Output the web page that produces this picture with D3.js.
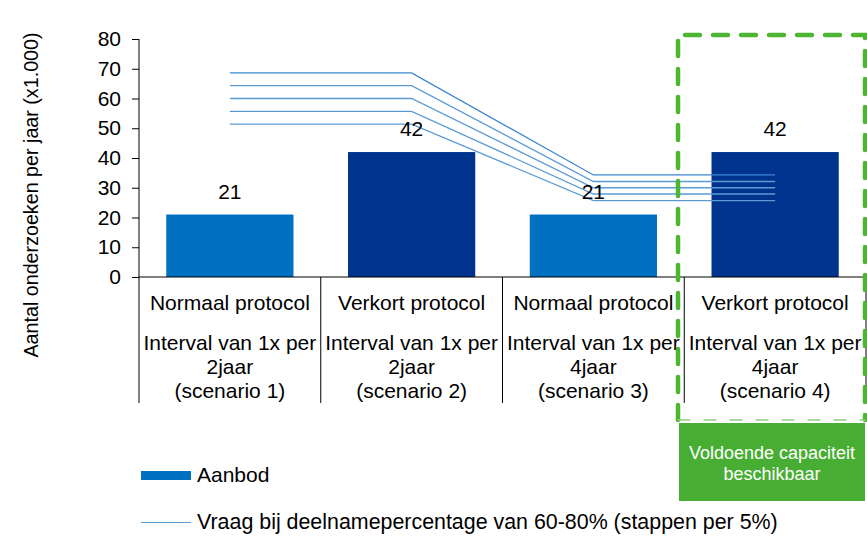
<!DOCTYPE html>
<html>
<head>
<meta charset="utf-8">
<script src="https://cdn.jsdelivr.net/npm/d3@7"></script>
<style>
  html, body { margin: 0; padding: 0; background: #fff; }
  svg { display: block; font-family: "Liberation Sans", Arial, sans-serif; }
</style>
</head>
<body>
<svg id="chart" width="867" height="536"></svg>
<script>
// Scenario categories (two label lines each)
const protocols = ["Normaal protocol", "Verkort protocol", "Normaal protocol", "Verkort protocol"];
const intervals = [
  ["Interval van 1x per", "2jaar", "(scenario 1)"],
  ["Interval van 1x per", "2jaar", "(scenario 2)"],
  ["Interval van 1x per", "4jaar", "(scenario 3)"],
  ["Interval van 1x per", "4jaar", "(scenario 4)"]
];
const scenarios = ["s1", "s2", "s3", "s4"];

// Supply (aanbod), x1.000 examinations per year
const aanbod = [21, 42, 21, 42];

// Demand at participation rates 60%..80% in steps of 5%
const vraag60 = [51.4, 51.4, 25.7, 25.7];
const vraag65 = [55.7, 55.7, 27.9, 27.9];
const vraag70 = [60.0, 60.0, 30.0, 30.0];
const vraag75 = [64.3, 64.3, 32.1, 32.1];
const vraag80 = [68.6, 68.6, 34.3, 34.3];
const vraagSeries = [vraag60, vraag65, vraag70, vraag75, vraag80];

const yTicks = [0, 10, 20, 30, 40, 50, 60, 70, 80];

const svg = d3.select("#chart");
const plotLeft = 139, plotRight = 866, plotTop = 39, plotBase = 277;
const fs = 21;

const x = d3.scaleBand().domain(scenarios).range([plotLeft, plotRight]).padding(0);
const y = d3.scaleLinear().domain([0, 80]).range([plotBase, plotTop]);
const barW = x.bandwidth() * 0.70;
const cx = i => x(scenarios[i]) + x.bandwidth() / 2;

// Y axis
const yAxis = d3.axisLeft(y).tickValues(yTicks).tickSize(7).tickPadding(11);
const gy = svg.append("g").attr("transform", `translate(${plotLeft},0)`).call(yAxis);
gy.select(".domain").attr("stroke", "#000").attr("d", `M0,${plotTop}V${plotBase}`);
gy.selectAll(".tick line").attr("stroke", "#000");
gy.selectAll(".tick text").attr("font-size", fs).attr("fill", "#000")
  .attr("font-family", "Liberation Sans, Arial, sans-serif");

// Y axis title
svg.append("text")
  .attr("transform", `translate(38,195) rotate(-90)`)
  .attr("text-anchor", "middle")
  .attr("font-size", 19.7)
  .attr("fill", "#000")
  .text("Aantal onderzoeken per jaar (x1.000)");

// Bars
svg.append("g").selectAll("rect").data(aanbod).join("rect")
  .attr("x", (d, i) => cx(i) - barW / 2)
  .attr("y", d => y(d))
  .attr("width", barW)
  .attr("height", d => y(0) - y(d))
  .attr("fill", (d, i) => i % 2 === 0 ? "#0070c0" : "#00338d");

// Demand lines
const line = d3.line().x((d, i) => cx(i)).y(d => y(d));
svg.append("g").selectAll("path").data(vraagSeries).join("path")
  .attr("d", line)
  .attr("fill", "none")
  .attr("stroke", (d, i) => i === 4 ? "#3b86d0" : "#5b9bd5")
  .attr("stroke-width", 1.3);

// Bar value labels
svg.append("g").selectAll("text").data(aanbod).join("text")
  .attr("x", (d, i) => cx(i))
  .attr("y", d => y(d) - 16)
  .attr("text-anchor", "middle")
  .attr("font-size", fs)
  .attr("fill", "#000")
  .text(d => d);

// Category axis: baseline and separators
svg.append("line").attr("x1", plotLeft).attr("x2", plotRight).attr("y1", plotBase).attr("y2", plotBase)
  .attr("stroke", "#000");
const sepX = scenarios.map(s => x(s)).concat([plotRight]);
svg.append("g").selectAll("line").data(sepX).join("line")
  .attr("x1", d => d).attr("x2", d => d)
  .attr("y1", plotBase).attr("y2", 403)
  .attr("stroke", "#000");

// Category labels, clipped per band
const defs = svg.append("defs");
scenarios.forEach((s, i) => {
  defs.append("clipPath").attr("id", "clip" + i).append("rect")
    .attr("x", x(s) + 1).attr("y", plotBase).attr("width", x.bandwidth() - 1).attr("height", 130);
  const g = svg.append("g").attr("clip-path", `url(#clip${i})`);
  g.append("text").attr("x", cx(i)).attr("y", 310).attr("text-anchor", "middle")
    .attr("font-size", fs).attr("fill", "#000").text(protocols[i]);
  intervals[i].forEach((t, j) => {
    g.append("text").attr("x", cx(i)).attr("y", 350 + j * 24).attr("text-anchor", "middle")
      .attr("font-size", fs).attr("fill", "#000").text(t);
  });
});

// Highlight frame around scenario 4
const fx0 = 678, fx1 = 865, fy0 = 35, fy1 = 420;
const frame = svg.append("g").attr("fill", "none").attr("stroke", "#4cb531")
  .attr("stroke-linecap", "round");
frame.append("path").attr("d", `M${fx0},${fy1}V${fy0}H${fx1}V${fy1}`)
  .attr("stroke-width", 4.5).attr("stroke-dasharray", "15 13");
frame.append("path").attr("d", `M${fx0},${fy1}H${fx1}`)
  .attr("stroke", "#8fd07f").attr("stroke-width", 1.5).attr("stroke-dasharray", "12 14");

// Capacity note box
svg.append("rect").attr("x", 679).attr("y", 423).attr("width", 186).attr("height", 78)
  .attr("fill", "#47ae33");
svg.append("text").attr("x", 772).attr("y", 459).attr("text-anchor", "middle")
  .attr("font-size", 18).attr("fill", "#fff").text("Voldoende capaciteit");
svg.append("text").attr("x", 772).attr("y", 480).attr("text-anchor", "middle")
  .attr("font-size", 18).attr("fill", "#fff").text("beschikbaar");

// Legend
const legend = svg.append("g");
legend.append("rect").attr("x", 141).attr("y", 471).attr("width", 50).attr("height", 9)
  .attr("fill", "#0070c0");
legend.append("text").attr("x", 197).attr("y", 482).attr("font-size", fs).attr("fill", "#000")
  .text("Aanbod");
legend.append("line").attr("x1", 141).attr("x2", 191).attr("y1", 522.5).attr("y2", 522.5)
  .attr("stroke", "#5b9bd5").attr("stroke-width", 1.2);
legend.append("text").attr("x", 197).attr("y", 529).attr("font-size", 21.4).attr("fill", "#000")
  .text("Vraag bij deelnamepercentage van 60-80% (stappen per 5%)");
</script>
</body>
</html>
